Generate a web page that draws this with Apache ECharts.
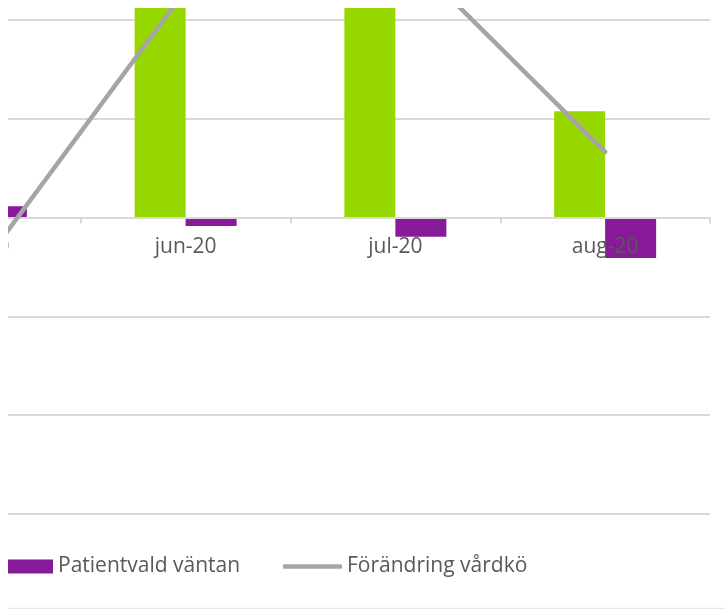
<!DOCTYPE html>
<html>
<head>
<meta charset="utf-8">
<style>
  html, body { margin: 0; padding: 0; background: #ffffff; }
  #chart { width: 725px; height: 609px; }
</style>
<script src="https://cdn.jsdelivr.net/npm/echarts@6/dist/echarts.min.js"></script>
</head>
<body>
<div id="chart"></div>
<script>
// months (first one is only partly in view)
var months = ['maj-20', 'jun-20', 'jul-20', 'aug-20'];

// values, one gridline = 500
var tillkomna = [300, 1250, 1350, 538];      // green bars
var patientvald = [57, -43, -98, -205];      // purple bars
var forandring = [-285, 1150, 1386, 332];    // grey line

var yMin = -1500, yMax = 1500, yStep = 500;

var textColor = '#595959';
var gridColor = '#d9d9d9';
var font = '"Open Sans", "Noto Sans", sans-serif';

var gridTop = -79, gridBottom = 95, chartH = 609;
// move the category axis (line, ticks, labels) up to value 0
var plotH = chartH - gridTop - gridBottom;
var zeroOffset = -plotH * (0 - yMin) / (yMax - yMin);

var dom = document.getElementById('chart');
var myChart = echarts.init(dom);

var option = {
    animation: false,
    backgroundColor: '#ffffff',
    grid: {
        left: -129,
        right: 15,
        top: gridTop,
        bottom: gridBottom,
        containLabel: false,
        outerBoundsMode: 'none'
    },
    legend: [
        {
            data: [{ name: 'Patientvald väntan', icon: 'rect' }],
            left: 8,
            top: 556,
            padding: 0,
            itemWidth: 45,
            itemHeight: 14,
            textStyle: { color: textColor, fontSize: 21, fontFamily: font }
        },
        {
            data: [{ name: 'Förändring vårdkö', icon: 'roundRect' }],
            left: 283,
            top: 556,
            padding: 0,
            itemWidth: 59,
            itemHeight: 4.7,
            itemStyle: { color: '#a5a5a5' },
            textStyle: { color: textColor, fontSize: 21, fontFamily: font }
        }
    ],
    xAxis: {
        type: 'category',
        data: months,
        offset: zeroOffset,
        z: 3,
        axisLine: { onZero: false, lineStyle: { color: gridColor, width: 2 } },
        axisTick: { show: true, length: 6, lineStyle: { color: gridColor, width: 2 } },
        axisLabel: { color: textColor, fontSize: 21, fontFamily: font, margin: 19 },
        splitLine: { show: false }
    },
    yAxis: {
        type: 'value',
        min: yMin,
        max: yMax,
        interval: yStep,
        axisLine: { show: false },
        axisTick: { show: false },
        axisLabel: { show: false },
        splitLine: { show: true, lineStyle: { color: gridColor, width: 2 } }
    },
    series: [
        {
            name: 'Tillkomna',
            type: 'bar',
            data: tillkomna,
            barWidth: 51,
            barGap: '0%',
            itemStyle: { color: '#97d700' }
        },
        {
            name: 'Patientvald väntan',
            type: 'bar',
            data: patientvald,
            barWidth: 51,
            barGap: '0%',
            itemStyle: { color: '#861a99' }
        },
        {
            name: 'Förändring vårdkö',
            type: 'line',
            data: forandring,
            symbol: 'none',
            showSymbol: false,
            lineStyle: { color: '#a5a5a5', width: 4.5, cap: 'round' },
            itemStyle: { color: '#a5a5a5' },
            z: 3
        }
    ],
    graphic: [
        // white margins where the original picture was cut
        { type: 'rect', left: 0, top: 0, z: 100, shape: { width: 8, height: 540 }, style: { fill: '#ffffff' } },
        { type: 'rect', left: 0, top: 0, z: 100, shape: { width: 725, height: 8 }, style: { fill: '#ffffff' } },
        { type: 'line', z: 100, shape: { x1: 8, y1: 608.5, x2: 725, y2: 608.5 }, style: { stroke: '#e6e6e6', lineWidth: 1.5 } }
    ]
};

myChart.setOption(option);
</script>
</body>
</html>
